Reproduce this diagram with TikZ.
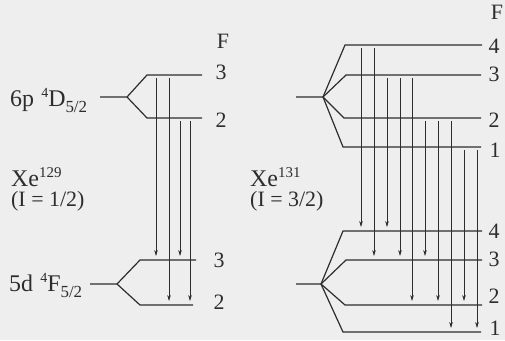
\documentclass[tikz,border=0pt]{standalone}
\usepackage{fontspec}
\setmainfont{Liberation Serif}
\usetikzlibrary{arrows.meta}
\definecolor{bgc}{RGB}{238,238,238}
\definecolor{ink}{RGB}{45,45,45}
\newcommand\myup[1]{\raisebox{0.34em}{\fontsize{14}{14}\selectfont #1}}
\newcommand\mydn[1]{\raisebox{-0.26em}{\fontsize{17}{17}\selectfont #1}}
\newcommand\mysupx[1]{\raisebox{0.36em}{\fontsize{15}{15}\selectfont #1}}
\begin{document}
\begin{tikzpicture}[x=1bp,y=-1bp,
  lvl/.style={draw=ink,line width=1.2bp,line join=miter},
  arr/.style={draw=ink,line width=0.7bp,-{Stealth[length=6bp,width=3.6bp]},shorten <=3bp,shorten >=4bp},
  lab/.style={text=ink,font=\fontsize{22}{24}\selectfont,inner sep=0pt},
  txt/.style={text=ink,font=\fontsize{24}{26}\selectfont,inner sep=0pt,anchor=base west},
  itxt/.style={text=ink,font=\fontsize{22}{24}\selectfont,inner sep=0pt,anchor=base west}]
\fill[bgc] (0,0) rectangle (505,340);
\useasboundingbox (0,0) rectangle (505,340);

% ---------- Xe129 ----------
\coordinate (aS) at (100,97);  \coordinate (aB) at (127,97);
\coordinate (aU3s) at (147,75);  \coordinate (aU3e) at (202,75);
\coordinate (aU2s) at (147,118); \coordinate (aU2e) at (202,118);
\path[lvl] (aS) -- (aB) -- (aU3s) -- (aU3e);
\path[lvl] (aB) -- (aU2s) -- (aU2e);

\coordinate (bS) at (90,284);  \coordinate (bB) at (117,284);
\coordinate (bL3s) at (140,260); \coordinate (bL3e) at (196,260);
\coordinate (bL2s) at (140,305); \coordinate (bL2e) at (193,305);
\path[lvl] (bS) -- (bB) -- (bL3s) -- (bL3e);
\path[lvl] (bB) -- (bL2s) -- (bL2e);

\node[lab] (aF) at (223,41) {F};
\node[lab] (a3) at (221,72) {3};
\node[lab] (a2) at (221,120) {2};
\node[lab] (b3) at (219,260) {3};
\node[lab] (b2) at (219,302) {2};

\node[txt] (aT) at (10,106) {6p\hspace{0.3em}\myup{4}D\mydn{5/2}};
\node[txt] (bT) at (9,291) {5d\hspace{0.3em}\myup{4}F\mydn{5/2}};
\node[txt] (aXe) at (11,186) {Xe\mysupx{129}};
\node[itxt] (aI) at (11,206) {(I = 1/2)};

\foreach \n/\x in {p1/156,p2/169,p3/180,p4/190}{\coordinate (\n) at (\x,0);}
\draw[arr] (aU3s -| p1) -- (bL3s -| p1);
\draw[arr] (aU3s -| p2) -- (bL2s -| p2);
\draw[arr] (aU2s -| p3) -- (bL3s -| p3);
\draw[arr] (aU2s -| p4) -- (bL2s -| p4);

% ---------- Xe131 ----------
\coordinate (cS) at (296,97);  \coordinate (cB) at (323,97);
\coordinate (cU4s) at (345,45);  \coordinate (cU4e) at (482,45);
\coordinate (cU3s) at (346,75);  \coordinate (cU3e) at (481,75);
\coordinate (cU2s) at (344,118); \coordinate (cU2e) at (481,118);
\coordinate (cU1s) at (343,147); \coordinate (cU1e) at (481,147);
\path[lvl] (cS) -- (cB) -- (cU4s) -- (cU4e);
\path[lvl] (cB) -- (cU3s) -- (cU3e);
\path[lvl] (cB) -- (cU2s) -- (cU2e);
\path[lvl] (cB) -- (cU1s) -- (cU1e);

\coordinate (dS) at (296,284);  \coordinate (dB) at (321,284);
\coordinate (dL4s) at (343,231); \coordinate (dL4e) at (482,231);
\coordinate (dL3s) at (346,260); \coordinate (dL3e) at (482,260);
\coordinate (dL2s) at (345,305); \coordinate (dL2e) at (482,305);
\coordinate (dL1s) at (343,332); \coordinate (dL1e) at (481,332);
\path[lvl] (dS) -- (dB) -- (dL4s) -- (dL4e);
\path[lvl] (dB) -- (dL3s) -- (dL3e);
\path[lvl] (dB) -- (dL2s) -- (dL2e);
\path[lvl] (dB) -- (dL1s) -- (dL1e);

\node[lab] (cF) at (497,12) {F};
\node[lab] (c4) at (494,46) {4};
\node[lab] (c3) at (494,74) {3};
\node[lab] (c2) at (494,120) {2};
\node[lab] (c1) at (495,150) {1};
\node[lab] (d4) at (494,231) {4};
\node[lab] (d3) at (494,259) {3};
\node[lab] (d2) at (494,296) {2};
\node[lab] (d1) at (495,328) {1};

\node[txt] (cXe) at (250,186) {Xe\mysupx{131}};
\node[itxt] (cI) at (250,206) {(I = 3/2)};

\foreach \n/\x in {q1/361,q2/374,q3/387,q4/400,q5/412,q6/425,q7/438,q8/451,q9/464,q10/477}{\coordinate (\n) at (\x,0);}
\draw[arr] (cU4s -| q1) -- (dL4s -| q1);
\draw[arr] (cU4s -| q2) -- (dL3s -| q2);
\draw[arr] (cU3s -| q3) -- (dL4s -| q3);
\draw[arr] (cU3s -| q4) -- (dL3s -| q4);
\draw[arr] (cU3s -| q5) -- (dL2s -| q5);
\draw[arr] (cU2s -| q6) -- (dL3s -| q6);
\draw[arr] (cU2s -| q7) -- (dL2s -| q7);
\draw[arr] (cU2s -| q8) -- (dL1s -| q8);
\draw[arr] (cU1s -| q9) -- (dL2s -| q9);
\draw[arr] (cU1s -| q10) -- (dL1s -| q10);
\end{tikzpicture}
\end{document}
